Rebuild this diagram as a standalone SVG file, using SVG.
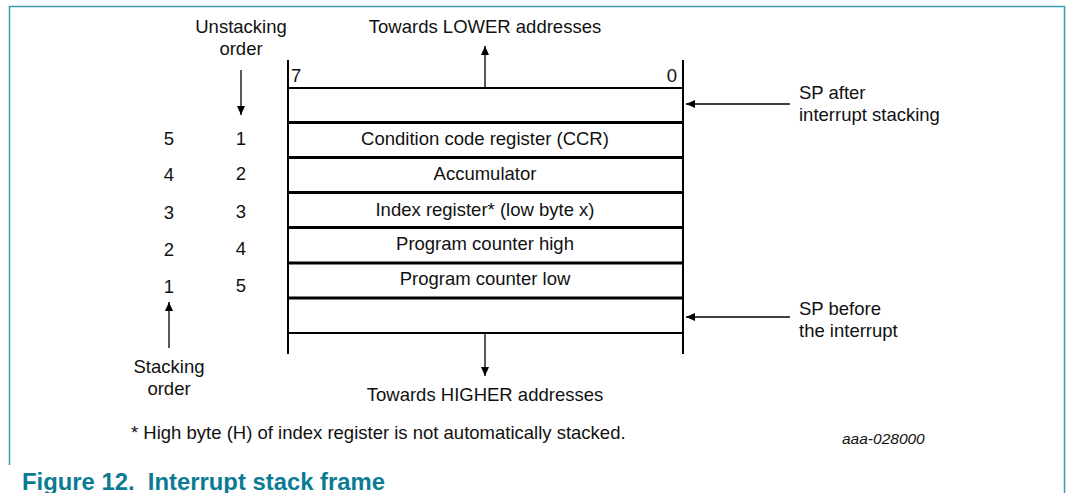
<svg xmlns="http://www.w3.org/2000/svg" width="1066" height="493" viewBox="0 0 1066 493">
<defs>
<marker id="ah" markerWidth="10" markerHeight="10" refX="9" refY="5" orient="auto" markerUnits="userSpaceOnUse">
<path d="M0,1 L9,5 L0,9 Z" fill="#000"/>
</marker>
<style>
text{font-family:"Liberation Sans",Arial,sans-serif;font-size:18.5px;fill:#111}
.c{text-anchor:middle}
.frame{stroke:#3a9bb5;stroke-width:1.5;fill:none}
.thin{stroke:#000;stroke-width:2}
.thick{stroke:#000;stroke-width:3}
.arr{stroke:#000;stroke-width:1.3;fill:none;marker-end:url(#ah)}
.title{font-size:23px;font-weight:bold;fill:#0b7b94}
</style>
</defs>
<rect width="1066" height="493" fill="#fff"/>
<path class="frame" d="M9.5,465 V6.5 H1064.5 V493"/>
<g id="stack">
<line class="thin" x1="288" y1="60" x2="288" y2="354"/>
<line class="thin" x1="683" y1="60" x2="683" y2="354"/>
<line class="thin" x1="288" y1="88" x2="683" y2="88"/>
<line class="thick" x1="288" y1="122.5" x2="683" y2="122.5"/>
<line class="thick" x1="288" y1="157.5" x2="683" y2="157.5"/>
<line class="thick" x1="288" y1="192.5" x2="683" y2="192.5"/>
<line class="thick" x1="288" y1="227.5" x2="683" y2="227.5"/>
<line class="thick" x1="288" y1="263" x2="683" y2="263"/>
<line class="thick" x1="288" y1="298" x2="683" y2="298"/>
<line class="thin" x1="288" y1="333" x2="683" y2="333"/>
<text x="291" y="82">7</text>
<text x="677" y="82" text-anchor="end">0</text>
</g>
<g id="row-ccr"><text class="c" x="485" y="145">Condition code register (CCR)</text></g>
<g id="row-acc"><text class="c" x="485" y="180">Accumulator</text></g>
<g id="row-idx"><text class="c" x="485" y="216">Index register* (low byte x)</text></g>
<g id="row-pch"><text class="c" x="485" y="250">Program counter high</text></g>
<g id="row-pcl"><text class="c" x="485" y="285">Program counter low</text></g>
<g id="labels">
<text class="c" x="485" y="33">Towards LOWER addresses</text>
<text class="c" x="485" y="401">Towards HIGHER addresses</text>
<text class="c" x="241" y="33">Unstacking</text>
<text class="c" x="241" y="55">order</text>
<text class="c" x="169" y="373">Stacking</text>
<text class="c" x="169" y="395">order</text>
<text x="799" y="99">SP after</text>
<text x="799" y="121">interrupt stacking</text>
<text x="799" y="315">SP before</text>
<text x="799" y="337">the interrupt</text>
</g>
<g id="order-numbers">
<text class="c" x="169" y="145">5</text>
<text class="c" x="169" y="181">4</text>
<text class="c" x="169" y="219">3</text>
<text class="c" x="169" y="256">2</text>
<text class="c" x="169" y="293">1</text>
<text class="c" x="241" y="145">1</text>
<text class="c" x="241" y="180">2</text>
<text class="c" x="241" y="218">3</text>
<text class="c" x="241" y="255">4</text>
<text class="c" x="241" y="292">5</text>
</g>
<g id="connectors">
<line class="arr" x1="485" y1="87" x2="485" y2="46"/>
<line class="arr" x1="485" y1="334" x2="485" y2="376"/>
<line class="arr" x1="241" y1="70" x2="241" y2="115"/>
<line class="arr" x1="169" y1="348" x2="169" y2="302"/>
<line class="arr" x1="790" y1="104" x2="686" y2="104"/>
<line class="arr" x1="790" y1="317" x2="686" y2="317"/>
</g>
<g id="notes">
<text x="131" y="439">* High byte (H) of index register is not automatically stacked.</text>
<text x="842" y="444" style="font-size:15.5px;font-style:italic">aaa-028000</text>
<text class="title" x="22" y="490" textLength="363" lengthAdjust="spacingAndGlyphs">Figure 12.&#160; Interrupt stack frame</text>
</g>
</svg>
